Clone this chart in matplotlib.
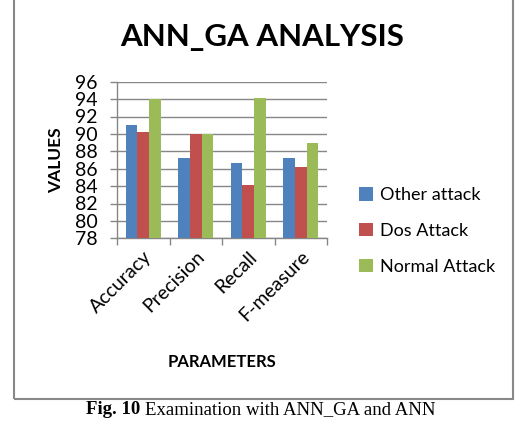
import matplotlib
matplotlib.use("Agg")
import matplotlib.pyplot as plt
import numpy as np
from matplotlib.patches import Rectangle

categories = ["Accuracy", "Precision", "Recall", "F-measure"]
series_names = ["Other attack", "Dos Attack", "Normal Attack"]
other_attack = [91.0, 87.2, 86.6, 87.2]
dos_attack = [90.2, 90.0, 84.1, 86.2]
normal_attack = [94.0, 90.0, 94.1, 89.0]
yticks = [78, 80, 82, 84, 86, 88, 90, 92, 94, 96]

colors = ["#4F81BD", "#C0504D", "#9BBB59"]
grid_c = "#868686"

plt.rcParams['font.family'] = ['Lato', 'DejaVu Sans']

fig = plt.figure(figsize=(5.22, 4.22), dpi=100)
W, H = 522, 422
ax = fig.add_axes([117 / W, 1 - 238.3 / H, 210 / W, (238.3 - 81.7) / H])

x = np.arange(len(categories))
bw = 0.667 / 3
for i, (vals, name) in enumerate(zip([other_attack, dos_attack, normal_attack], series_names)):
    ax.bar(x + (i - 1) * bw, np.array(vals) - 78, bottom=78, width=bw,
           color=colors[i], label=name, zorder=3)

ax.set_xlim(-0.5, len(categories) - 0.5)
ax.set_ylim(78, 96)
ax.set_yticks(yticks)
ax.set_yticklabels([str(t) for t in yticks], fontsize=14)
ax.yaxis.grid(True, color=grid_c, linewidth=1.0, zorder=0)
ax.set_axisbelow(True)

ax.set_xticks(x)
ax.set_xticklabels(categories, rotation=45, ha='right', va='top',
                   rotation_mode='anchor', fontsize=14)
ax.set_xticks(np.arange(-0.5, len(categories)), minor=True)
ax.tick_params(axis='x', which='major', length=0, pad=7)
ax.tick_params(axis='x', which='minor', length=5, color=grid_c, width=1)
ax.tick_params(axis='y', length=5, color=grid_c, width=1, pad=9)

for s in ['top', 'right']:
    ax.spines[s].set_visible(False)
for s in ['left', 'bottom']:
    ax.spines[s].set_color(grid_c)
    ax.spines[s].set_linewidth(1.0)

ax.set_ylabel("VALUES", fontsize=12.5, fontweight='bold', labelpad=8)
fig.text(222 / W, 1 - 362 / H, "PARAMETERS", fontsize=12, fontweight='bold',
         ha='center', va='center')
fig.text(262 / W, 1 - 37 / H, "ANN_GA ANALYSIS", fontsize=22.5, fontweight='bold',
         ha='center', va='center')

leg = fig.legend(loc='upper left', bbox_to_anchor=(352 / W, 1 - 180 / H),
                 frameon=False, fontsize=13, handlelength=0.75, handleheight=0.75,
                 handletextpad=0.4, labelspacing=1.1, borderaxespad=0)

fig.patches.append(Rectangle((14 / W, 1 - 399 / H), (513 - 14) / W, 399 / H + 0.05,
                             transform=fig.transFigure, fill=False,
                             edgecolor="#888888", linewidth=1.5))

# caption: bold "Fig. 10" followed by regular text
cap_y = 1 - 414 / H
renderer = fig.canvas.get_renderer()
t1 = fig.text(0, cap_y, "Fig. 10 ", fontsize=13.5, family='Liberation Serif',
              fontweight='bold', ha='left', va='baseline')
t2 = fig.text(0, cap_y, "Examination with ANN_GA and ANN", fontsize=13.5,
              family='Liberation Serif', ha='left', va='baseline')
w1 = t1.get_window_extent(renderer).width
w2 = t2.get_window_extent(renderer).width
start = 261 - (w1 + w2) / 2
t1.set_x(start / W)
t2.set_x((start + w1) / W)

fig.savefig("out.png", dpi=100)
